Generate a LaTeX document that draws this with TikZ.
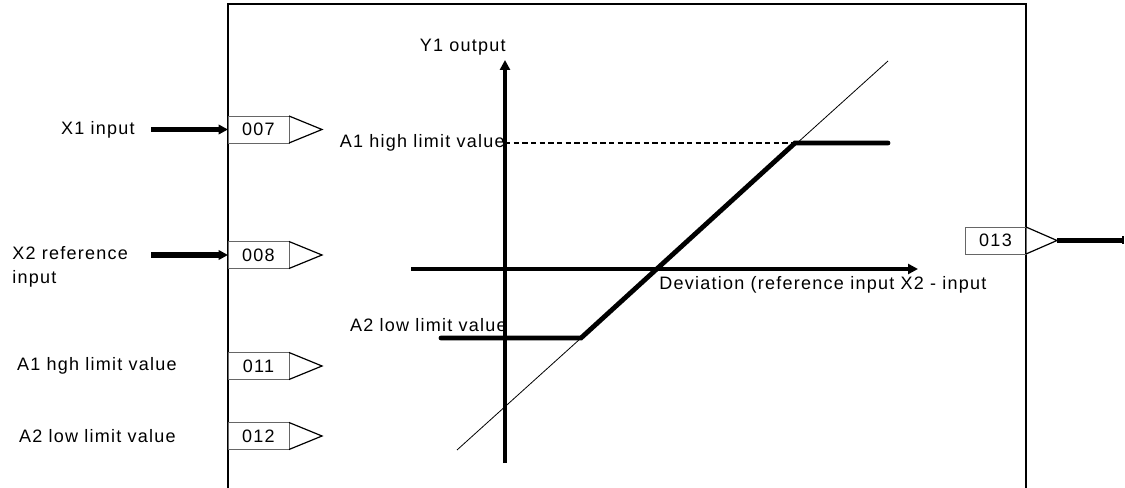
\documentclass[tikz,border=0pt]{standalone}
\usepackage{fontspec}
\setmainfont{Liberation Sans}[LetterSpace=7]
\usetikzlibrary{arrows.meta,positioning}
\tikzset{
    pinbox/.style={draw=black!60, line width=0.7pt, minimum width=45.75pt,
    minimum height=20.25pt, inner sep=0pt, outer sep=0pt,
    font=\fontsize{13.5}{18}\selectfont},
    pintip/.style={draw, line width=0.9pt, line join=miter},
    sidelabel/.style={font=\fontsize{13.5}{18}\selectfont, inner sep=0pt, align=left},
    feed/.style={line width=3.8pt, -{Triangle[length=7pt,width=7pt]}},
}

\begin{document}
\begin{tikzpicture}[
            x=0.75pt, y=-0.75pt,
            axis/.style={line width=3pt, -{Triangle[length=7.5pt,width=7.5pt]}},
            curve/.style={line width=3.6pt, line cap=round, line join=miter},
            node distance=0pt
        ]
            \useasboundingbox (0,0) rectangle (1125,488);
            % block frame (open at the bottom)
            \draw[line width=1.6pt] (228,500) -- (228,4) -- (1026,4) -- (1026,500);
            % input pins
            \node[pinbox, anchor=west] (p007) at (228,129.5) {007};
            \node[pinbox, anchor=west] (p008) at (228,255) {008};
            \node[pinbox, anchor=west] (p011) at (228,366) {011};
            \node[pinbox, anchor=west] (p012) at (228,436) {012};
            \draw[pintip] (p007.north east) -- ++(33,13.5) -- (p007.south east);
            \draw[pintip] (p008.north east) -- ++(33,13.5) -- (p008.south east);
            \draw[pintip] (p011.north east) -- ++(33,13.5) -- (p011.south east);
            \draw[pintip] (p012.north east) -- ++(33,13.5) -- (p012.south east);
            % input labels
            \node[sidelabel, anchor=east] (lx1) at (135,129.5) {X1 input};
            \node[sidelabel, anchor=west] (lx2) at (12,267) {X2 reference\\input};
            \node[sidelabel, anchor=east] (la1) at (177,366) {A1 hgh limit value};
            \node[sidelabel, anchor=east] (la2) at (176,436) {A2 low limit value};
            \coordinate (fx1) at (151,129.5);
            \coordinate (fx2) at (151,255);
            \draw[feed] (fx1) -- (p007.west);
            \draw[feed] (fx2) -- (p008.west);
            % output pin
            \node[pinbox, anchor=east] (p013) at (1026,240.5) {013};
            \draw[pintip] (p013.north east) -- ++(31,13.5) coordinate (tip013) -- (p013.south east);
            \coordinate (out) at (1124,240.5);
            \draw[line width=3.8pt, -{Bar[width=6pt,line width=1.5pt]}] (tip013) -- (out);
            % characteristic: axes
            \coordinate (ybot) at (505,463);
            \coordinate (ytop) at (505,60);
            \coordinate (xlft) at (411,269);
            \coordinate (xrgt) at (918,269);
            \draw[axis] (ybot) -- (ytop);
            \draw[axis] (xlft) -- (xrgt);
            \node[sidelabel, anchor=east] (ly1) at (506,47) {Y1 output};
            \node[sidelabel, anchor=west] (ldev) at (659,285) {Deviation (reference input X2 - input};
            % characteristic: limits
            \coordinate (c1) at (441,338);
            \coordinate (c2) at (581,338);
            \coordinate (c3) at (795,143);
            \coordinate (c4) at (888,143);
            \coordinate (d1) at (457,450);
            \coordinate (d2) at (888,61);
            \draw[line width=0.6pt] (d1) -- (d2);
            \node[sidelabel, anchor=east] (lhi) at (505,143) {A1 high limit value};
            \node[sidelabel, anchor=east] (llo) at (507,325) {A2 low limit value};
            \draw[line width=1.2pt, dash pattern=on 4pt off 2.5pt] (lhi.east) -- (c3);
            \draw[curve] (c1) -- (c2) -- (c3) -- (c4);
        \end{tikzpicture}
\end{document}
